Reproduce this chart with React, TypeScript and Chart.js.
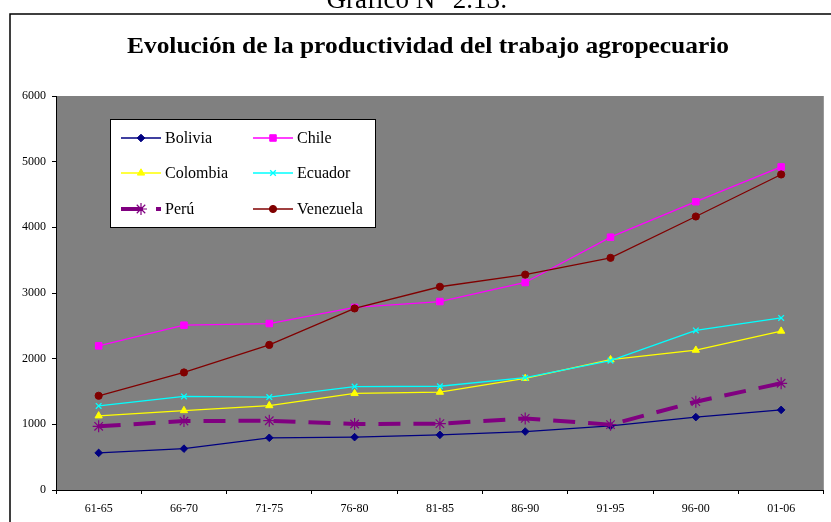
import { useEffect, useRef } from 'react';
import { Chart, registerables } from 'chart.js';
import { drawPoint } from 'chart.js/helpers';

Chart.register(...registerables);

const SERIF = '"Liberation Serif", "Times New Roman", Times, serif';

const pageCaption = 'Gráfico N° 2.13:';
const chartTitle = 'Evolución de la productividad del trabajo agropecuario';

const categories = ['61-65', '66-70', '71-75', '76-80', '81-85', '86-90', '91-95', '96-00', '01-06'];

const bolivia = [565, 630, 795, 805, 840, 890, 975, 1110, 1220];
const chile = [2195, 2510, 2535, 2780, 2870, 3160, 3850, 4390, 4920];
const colombia = [1130, 1210, 1285, 1470, 1490, 1700, 1985, 2130, 2420];
const ecuador = [1280, 1425, 1415, 1575, 1580, 1710, 1970, 2430, 2620];
const peru = [970, 1050, 1055, 1005, 1010, 1090, 995, 1345, 1625];
const venezuela = [1435, 1790, 2210, 2765, 3095, 3280, 3535, 4165, 4805];

const yMin = 0;
const yMax = 6000;
const yStep = 1000;

function makeDataset(label: string, data: number[], color: string, pointStyle: string, radius: number, extra: any = {}) {
  return {
    label,
    data,
    borderColor: color,
    backgroundColor: color,
    borderWidth: 1.3,
    pointStyle,
    pointRadius: radius,
    pointBackgroundColor: color,
    pointBorderColor: color,
    pointBorderWidth: 1,
    tension: 0,
    fill: false,
    ...extra,
  };
}

// Frame, captions, plot background and the boxed legend
const decor = {
  id: 'decor',
  beforeDraw(chart: any) {
    const { ctx, chartArea: a } = chart;
    ctx.save();
    ctx.fillStyle = '#ffffff';
    ctx.fillRect(0, 0, chart.width, chart.height);

    ctx.strokeStyle = '#000000';
    ctx.lineWidth = 1.5;
    ctx.strokeRect(10, 14, 900, 600);

    ctx.fillStyle = '#000000';
    ctx.textAlign = 'center';
    ctx.textBaseline = 'alphabetic';
    ctx.font = `27px ${SERIF}`;
    ctx.fillText(pageCaption, 417, 8);

    // bold title, slightly widened
    ctx.save();
    ctx.translate(428, 53);
    ctx.scale(1.105, 1);
    ctx.font = `bold 23px ${SERIF}`;
    ctx.fillText(chartTitle, 0, 0);
    ctx.restore();

    ctx.fillStyle = '#808080';
    ctx.fillRect(a.left, a.top, a.right - a.left, a.bottom - a.top);
    ctx.restore();
  },
  afterDraw(chart: any) {
    const { ctx } = chart;
    ctx.save();
    ctx.fillStyle = '#ffffff';
    ctx.fillRect(110, 119, 265, 108);
    ctx.strokeStyle = '#000000';
    ctx.lineWidth = 1;
    ctx.strokeRect(110.5, 119.5, 265, 108);

    const colX = [121, 253];
    const rowY = [138, 173, 209];
    chart.data.datasets.forEach((ds: any, i: number) => {
      const x = colX[i % 2];
      const y = rowY[Math.floor(i / 2)];
      ctx.strokeStyle = ds.borderColor;
      ctx.lineWidth = ds.borderWidth;
      ctx.setLineDash(ds.borderDash || []);
      ctx.beginPath();
      ctx.moveTo(x, y);
      ctx.lineTo(x + 40, y);
      ctx.stroke();
      ctx.setLineDash([]);
      ctx.fillStyle = ds.pointBackgroundColor;
      ctx.strokeStyle = ds.pointBorderColor;
      ctx.lineWidth = ds.pointBorderWidth;
      drawPoint(ctx, { pointStyle: ds.pointStyle, radius: ds.pointRadius, rotation: 0, borderWidth: ds.pointBorderWidth } as any, x + 20, y);
      ctx.fillStyle = '#000000';
      ctx.font = `16px ${SERIF}`;
      ctx.textAlign = 'left';
      ctx.textBaseline = 'middle';
      ctx.fillText(ds.label, x + 44, y + 1);
    });
    ctx.restore();
  },
};

export default function App() {
  const canvasRef = useRef<HTMLCanvasElement | null>(null);

  useEffect(() => {
    const canvas = canvasRef.current;
    if (!canvas) return;
    const chart = new Chart(canvas, {
      type: 'line',
      data: {
        labels: categories,
        datasets: [
          makeDataset('Bolivia', bolivia, '#000080', 'rectRot', 3.8, { order: 6 }),
          makeDataset('Chile', chile, '#ff00ff', 'rect', 4.6, { order: 5 }),
          makeDataset('Colombia', colombia, '#ffff00', 'triangle', 4.2, { order: 4 }),
          makeDataset('Ecuador', ecuador, '#00ffff', 'crossRot', 4, { order: 3, pointBorderWidth: 1.3 }),
          makeDataset('Perú', peru, '#800080', 'star', 6, { order: 2, borderWidth: 4, borderDash: [22, 13], pointBorderWidth: 1.2 }),
          makeDataset('Venezuela', venezuela, '#800000', 'circle', 3.6, { order: 1 }),
        ],
      },
      options: {
        responsive: false,
        animation: false,
        devicePixelRatio: 1,
        events: [],
        layout: { padding: { left: 0, right: 1, top: 96, bottom: 0 } },
        plugins: {
          legend: { display: false },
          title: { display: false },
          tooltip: { enabled: false },
        },
        scales: {
          x: {
            type: 'category',
            offset: true,
            grid: { display: true, drawOnChartArea: false, offset: true, tickLength: 4, color: '#000000' },
            border: { display: true, color: '#000000', width: 1 },
            ticks: { color: '#000000', font: { family: SERIF, size: 12 }, padding: 8, maxRotation: 0, autoSkip: false },
            afterFit(scale: any) { scale.height = 32; },
          },
          y: {
            min: yMin,
            max: yMax,
            grid: { display: true, drawOnChartArea: false, tickLength: 4, color: '#000000' },
            border: { display: true, color: '#000000', width: 1 },
            ticks: {
              stepSize: yStep,
              color: '#000000',
              font: { family: SERIF, size: 12 },
              padding: 6,
              callback: (v: any) => String(v),
            },
            afterFit(scale: any) { scale.width = 56; },
          },
        },
      },
      plugins: [decor],
    });
    return () => chart.destroy();
  }, []);

  return (
    <div style={{ position: 'absolute', left: 0, top: 0, width: 831, height: 522 }}>
      <canvas ref={canvasRef} width={831} height={522} style={{ display: 'block' }} />
    </div>
  );
}
